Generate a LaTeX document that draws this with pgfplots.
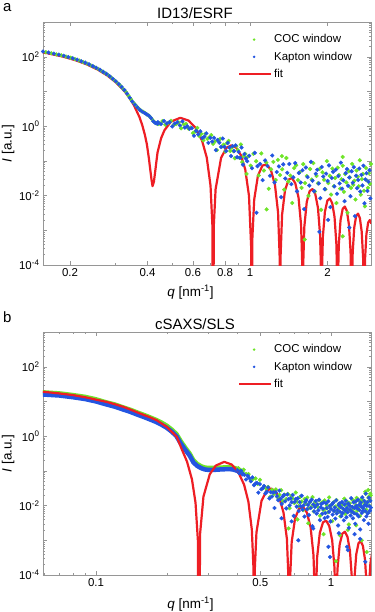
\documentclass[border=0pt]{standalone}
\usepackage{fontspec}
\setmainfont{Liberation Sans}
\usepackage{pgfplots}
\pgfplotsset{compat=1.18}

\definecolor{cocgreen}{RGB}{110,228,40}
\definecolor{kapblue}{RGB}{35,85,225}
\definecolor{fitred}{RGB}{238,30,36}
\definecolor{boxgray}{RGB}{150,150,150}

\pgfplotsset{
  zzdotleg/.style={legend image code/.code={%
      \path[draw=none, fill=none] (0bp,-2bp) rectangle (32bp,2bp);
      \fill[##1, draw=none] (15bp,0bp) circle (1.4bp);}},
  zzlineleg/.style={legend image code/.code={%
      \draw[##1] (0bp,0bp) -- (32bp,0bp);}},
}

\begin{document}
\begin{tikzpicture}
\path[use as bounding box] (-43bp,22bp) rectangle (332bp,-590bp);

% ---------- panel a: ID13/ESRF
\begin{axis}[at={(0,0)}, anchor=north west,
  scale only axis, width=328bp, height=243bp,
  xmode=log, ymode=log,
  xmin=0.157, xmax=2.95, ymin=1e-4, ymax=1e3,
  xtick={0.2,0.4,0.6,0.8,1,2}, xticklabels={0.2,0.4,0.6,0.8,1,2},
  minor xtick={0.3,0.5,0.7,0.9},
  ytick={1e-4,1e-3,1e-2,1e-1,1,1e1,1e2,1e3},
  yticklabels={10\textsuperscript{-4},,10\textsuperscript{-2},,10\textsuperscript{0},,10\textsuperscript{2},},
  minor ytick={2e-4,3e-4,4e-4,5e-4,6e-4,7e-4,8e-4,9e-4,2e-3,3e-3,4e-3,5e-3,6e-3,7e-3,8e-3,9e-3,2e-2,3e-2,4e-2,5e-2,6e-2,7e-2,8e-2,9e-2,0.2,0.3,0.4,0.5,0.6,0.7,0.8,0.9,2,3,4,5,6,7,8,9,20,30,40,50,60,70,80,90,200,300,400,500,600,700,800,900},
  axis line style={boxgray}, tick style={boxgray},
  major tick length=4bp, minor tick length=2bp,
  tick label style={font=\fontsize{11.5}{13}\selectfont, black},
  xlabel={\textit{q} [nm\textsuperscript{-1}]},
  ylabel={\textit{I} [a.u.]},
  every axis label/.append style={font=\fontsize{13.5}{16}\selectfont},
  xlabel style={at={(axis description cs:0.45,-0.113)}, anchor=center},
  ylabel style={at={(axis description cs:-0.106,0.5)}, anchor=center},
  legend cell align=left,
  legend style={at={(0.594,0.957)}, anchor=north west, inner sep=0pt,
    draw=none, fill=none, font=\fontsize{11.5}{13}\selectfont, row sep=3.5bp}]

\addplot[only marks, mark=*, mark size=1.9bp, color=cocgreen, zzdotleg] table {
q I
0.161 135
0.169 126
0.177 117
0.185 110
0.193 101
0.201 93.3
0.209 85.1
0.217 77.6
0.225 70.0
0.233 63.1
0.241 56.2
0.249 50.1
0.257 44.7
0.265 38.9
0.273 33.9
0.281 29.5
0.289 25.1
0.297 21.4
0.305 17.8
0.313 14.8
0.321 12.0
0.329 9.8
0.337 7.6
0.345 5.9
0.353 4.7
0.361 3.9
0.369 3.24
0.377 2.82
0.385 2.57
0.393 2.34
0.401 2.09
0.409 1.86
0.417 1.55
0.425 1.32
0.433 1.20
0.441 1.17
0.445 1.20
0.457 1.40
0.469 1.10
0.481 1.24
0.493 1.42
0.505 1.08
0.516 1.15
0.528 1.27
0.540 0.87
0.552 1.14
0.564 1.17
0.576 0.85
0.588 0.91
0.600 0.63
0.612 0.70
0.624 0.89
0.635 0.52
0.647 0.60
0.659 0.39
0.671 0.60
0.683 0.43
0.695 0.48
0.707 0.55
0.719 0.31
0.731 0.36
0.743 0.205
0.754 0.40
0.766 0.43
0.778 0.259
0.790 0.292
0.802 0.185
0.814 0.325
0.826 0.377
0.838 0.193
0.850 0.24
0.862 0.19
0.873 0.119
0.885 0.266
0.897 0.204
0.909 0.122
0.921 0.296
0.933 0.092
0.945 0.135
0.957 0.160
0.969 0.042
0.981 0.132
1.006 0.0726
1.031 0.160
1.056 0.0973
1.081 0.038
1.106 0.164
1.132 0.0526
1.157 0.0895
1.182 0.0157
1.207 0.0573
1.232 0.0935
1.258 0.0282
1.283 0.107
1.308 0.0391
1.333 0.0571
1.358 0.0148
1.384 0.121
1.409 0.0255
1.434 0.0376
1.459 0.0061
1.484 0.0619
1.510 0.0746
1.535 0.0279
1.560 0.0476
1.585 0.0167
1.610 0.0804
1.636 0.0229
1.661 0.0367
1.686 0.0098
1.711 0.0582
1.736 0.0288
1.762 0.0861
1.787 0.0132
1.812 0.0368
1.837 0.0225
1.862 0.0586
1.888 0.0039
1.913 0.0469
1.938 0.0287
1.963 0.0153
1.988 0.098
2.014 0.0229
2.039 0.0371
2.064 0.0107
2.089 0.0598
2.114 0.0185
2.140 0.032
2.165 0.0061
2.190 0.0635
2.215 0.0391
2.240 0.0159
2.266 0.0295
2.291 0.0723
2.316 0.0128
2.341 0.0414
2.366 0.0238
2.392 0.0032
2.417 0.0506
2.442 0.0333
2.467 0.0167
2.492 0.0815
2.518 0.0204
2.543 0.0267
2.568 0.0077
2.593 0.0528
2.618 0.0348
2.644 0.0186
2.669 0.104
2.694 0.0106
2.719 0.0297
2.744 0.0418
2.770 0.0138
2.795 0.0049
2.820 0.0624
2.845 0.0272
2.870 0.0167
2.896 0.0439
2.921 0.0219
2.946 0.0813
1.16 0.0040
1.63 0.00054
2.29 0.00067
2.29 0.130
1.33 0.137
};
\addlegendentry{COC window}

\addplot[only marks, mark=*, mark size=1.9bp, color=kapblue, zzdotleg] table {
q I
0.157 141
0.165 132
0.173 123
0.181 115
0.189 107
0.197 97.7
0.205 90.2
0.213 82.2
0.221 74.1
0.229 67.6
0.237 60.3
0.245 53.7
0.253 47.9
0.261 42.2
0.269 36.7
0.277 32.0
0.285 27.5
0.293 23.2
0.301 19.7
0.309 16.4
0.317 13.5
0.325 11.0
0.333 8.7
0.341 6.6
0.349 5.1
0.357 4.17
0.365 3.47
0.373 2.95
0.381 2.63
0.389 2.40
0.397 2.19
0.405 2.0
0.413 1.70
0.421 1.38
0.429 1.23
0.437 1.17
0.439 1.30
0.451 1.15
0.463 1.40
0.475 1.20
0.487 1.31
0.499 0.98
0.510 1.19
0.522 1.30
0.534 1.05
0.546 1.37
0.558 0.91
0.570 0.99
0.582 0.84
0.594 0.88
0.606 0.53
0.618 0.73
0.629 0.58
0.641 0.71
0.653 0.457
0.665 0.50
0.677 0.62
0.689 0.33
0.701 0.46
0.713 0.36
0.725 0.46
0.737 0.204
0.748 0.40
0.760 0.334
0.772 0.252
0.784 0.44
0.796 0.253
0.808 0.192
0.820 0.328
0.832 0.242
0.844 0.138
0.856 0.266
0.867 0.192
0.879 0.279
0.891 0.127
0.903 0.182
0.915 0.123
0.927 0.242
0.939 0.078
0.951 0.157
0.963 0.117
0.975 0.098
0.993 0.140
1.018 0.0614
1.043 0.170
1.069 0.0705
1.094 0.0813
1.119 0.0279
1.144 0.103
1.169 0.071
1.195 0.0373
1.220 0.143
1.245 0.024
1.270 0.0479
1.295 0.0692
1.321 0.0090
1.346 0.0794
1.371 0.0309
1.396 0.0452
1.421 0.0813
1.447 0.0214
1.472 0.0335
1.497 0.0865
1.522 0.0132
1.547 0.0447
1.573 0.0237
1.598 0.0535
1.623 0.0041
1.648 0.0643
1.673 0.0341
1.699 0.0194
1.724 0.094
1.749 0.0268
1.774 0.0133
1.799 0.0425
1.825 0.0555
1.850 0.0224
1.875 0.0084
1.900 0.0665
1.925 0.0355
1.951 0.0153
1.976 0.0429
2.001 0.0263
2.026 0.0740
2.051 0.00466
2.077 0.0321
2.102 0.0485
2.127 0.0184
2.152 0.0555
2.177 0.0113
2.203 0.0365
2.228 0.0224
2.253 0.0891
2.278 0.0158
2.303 0.0274
2.329 0.0069
2.354 0.0443
2.379 0.0582
2.404 0.0192
2.429 0.0333
2.455 0.0096
2.480 0.0502
2.505 0.0234
2.530 0.0658
2.555 0.00255
2.581 0.0375
2.606 0.0163
2.631 0.0282
2.656 0.060
2.681 0.0131
2.707 0.0393
2.732 0.0196
2.757 0.0724
2.782 0.006
2.807 0.0292
2.833 0.0441
2.858 0.0136
2.883 0.0252
2.908 0.0538
2.933 0.0083
1.06 0.0032
2.01 0.0020
2.43 0.0012
1.86 0.0009
};
\addlegendentry{Kapton window}

\addplot[no marks, color=fitred, line width=2.2bp, line join=round, zzlineleg] table {
q I
0.1555 133.9
0.1635 125.8
0.1860 102.4
0.2093 80.0
0.2326 59.9
0.2558 42.7
0.2791 28.7
0.3023 17.87
0.3256 10.07
0.3395 6.67
0.3535 4.11
0.3721 1.82
0.3814 1.076
0.3907 0.555
0.3977 0.295
0.4047 0.118
0.4140 0.030
0.4180 0.0187
0.4233 0.025
0.4372 0.173
0.4512 0.444
0.4651 0.761
0.4930 1.351
0.5358 1.738
0.5767 1.454
0.6140 0.905
0.6512 0.382
0.6791 0.1244
0.7023 0.0194
0.7140 0.00145
0.7186 1e-8
0.7233 0.00137
0.7349 0.0152
0.7721 0.1224
0.8093 0.2365
0.8465 0.2802
0.8837 0.2389
0.9209 0.1472
0.9581 0.0567
0.9907 0.00983
1.0097 0.00035
1.0143 1e-8
1.0202 5.2e-4
1.0379 7.66e-3
1.0731 0.0374
1.1173 0.0732
1.1614 0.0790
1.2055 0.0540
1.2497 0.0204
1.2849 3.26e-3
1.3026 1.97e-4
1.3085 1e-8
1.3144 1.89e-4
1.3319 2.82e-3
1.3672 0.01421
1.4112 0.02877
1.4552 0.03204
1.4992 0.02257
1.5432 8.75e-3
1.5785 1.431e-3
1.5961 8.7e-5
1.6020 1e-8
1.6078 8.5e-5
1.6254 1.273e-3
1.6606 6.53e-3
1.7046 0.01351
1.7485 0.01538
1.7925 0.01105
1.8364 4.36e-3
1.8715 7.24e-4
1.8892 4.4e-5
1.8950 1e-8
1.9009 4.3e-5
1.9184 6.56e-4
1.9536 3.41e-3
1.9975 7.17e-3
2.0414 8.27e-3
2.0853 6.03e-3
2.1292 2.415e-3
2.1644 4.05e-4
2.1819 2.5e-5
2.1879 1e-8
2.1937 2.4e-5
2.2112 3.71e-4
2.2463 1.95e-3
2.2902 4.15e-3
2.3342 4.84e-3
2.3782 3.57e-3
2.4221 1.442e-3
2.4571 2.44e-4
2.4747 1.5e-5
2.4806 1e-8
2.4865 1.5e-5
2.5040 2.26e-4
2.5390 1.195e-3
2.5829 2.56e-3
2.6268 3.02e-3
2.6707 2.24e-3
2.7145 9.14e-4
2.7496 1.55e-4
2.7672 9.7e-6
2.7731 1e-8
2.7789 9.5e-6
2.7964 1.45e-4
2.8316 7.72e-4
2.8756 1.668e-3
2.9196 1.978e-3
2.9600 1.55e-3
};
\addlegendentry{fit}
\end{axis}

% ---------- panel b: cSAXS/SLS
\begin{axis}[at={(0,-310bp)}, anchor=north west,
  scale only axis, width=328bp, height=243bp,
  xmode=log, ymode=log,
  xmin=0.0595, xmax=1.48, ymin=1e-4, ymax=1e3,
  xtick={0.1,0.5,1}, xticklabels={0.1,0.5,1},
  minor xtick={0.06,0.07,0.08,0.09,0.2,0.3,0.4,0.6,0.7,0.8,0.9},
  ytick={1e-4,1e-3,1e-2,1e-1,1,1e1,1e2,1e3},
  yticklabels={10\textsuperscript{-4},,10\textsuperscript{-2},,10\textsuperscript{0},,10\textsuperscript{2},},
  minor ytick={2e-4,3e-4,4e-4,5e-4,6e-4,7e-4,8e-4,9e-4,2e-3,3e-3,4e-3,5e-3,6e-3,7e-3,8e-3,9e-3,2e-2,3e-2,4e-2,5e-2,6e-2,7e-2,8e-2,9e-2,0.2,0.3,0.4,0.5,0.6,0.7,0.8,0.9,2,3,4,5,6,7,8,9,20,30,40,50,60,70,80,90,200,300,400,500,600,700,800,900},
  axis line style={boxgray}, tick style={boxgray},
  major tick length=4bp, minor tick length=2bp,
  tick label style={font=\fontsize{11.5}{13}\selectfont, black},
  xlabel={\textit{q} [nm\textsuperscript{-1}]},
  ylabel={\textit{I} [a.u.]},
  every axis label/.append style={font=\fontsize{13.5}{16}\selectfont},
  xlabel style={at={(axis description cs:0.45,-0.119)}, anchor=center},
  ylabel style={at={(axis description cs:-0.106,0.5)}, anchor=center},
  legend cell align=left,
  legend style={at={(0.594,0.957)}, anchor=north west, inner sep=0pt,
    draw=none, fill=none, font=\fontsize{11.5}{13}\selectfont, row sep=3.5bp}]

% dense part of the COC curve
\addplot[forget plot, no marks, color=cocgreen, line width=4.5bp, line join=round, line cap=round] table {
q I
0.058 18.4
0.060 18.2
0.070 17.0
0.080 15.2
0.090 13.5
0.100 11.5
0.110 9.5
0.120 8.2
0.130 6.8
0.140 5.75
0.150 4.8
0.160 4.08
0.170 3.47
0.180 2.95
0.190 2.46
0.200 2.0
0.210 1.55
0.220 1.15
0.230 0.70
0.240 0.46
0.250 0.32
0.260 0.20
0.270 0.157
0.280 0.136
0.290 0.125
0.300 0.121
0.320 0.121
0.340 0.124
0.360 0.127
0.380 0.126
0.400 0.114
0.420 0.095
};
\addplot[only marks, mark=*, mark size=1.9bp, color=cocgreen, zzdotleg] table {
q I
0.404 0.119
0.4145 0.0964
0.425 0.108
0.4355 0.0813
0.446 0.0809
0.4565 0.0536
0.467 0.0592
0.4775 0.0607
0.488 0.0419
0.4985 0.0551
0.509 0.0308
0.5195 0.0356
0.530 0.0307
0.5405 0.0344
0.551 0.0178
0.5615 0.0284
0.572 0.0215
0.5825 0.0292
0.593 0.0174
0.6035 0.0204
0.614 0.0278
0.6245 0.0135
0.635 0.0205
0.6455 0.0154
0.656 0.0217
0.6665 0.0084
0.677 0.0191
0.6875 0.0161
0.698 0.0118
0.7085 0.0238
0.719 0.0128
0.7295 0.0097
0.740 0.0178
0.7505 0.013
0.761 0.0074
0.7715 0.0155
0.782 0.0113
0.7925 0.0171
0.803 0.0083
0.8135 0.0123
0.824 0.0091
0.8345 0.0175
0.845 0.0068
0.8555 0.0127
0.866 0.0104
0.8765 0.0092
0.887 0.0143
0.8975 0.0051
0.908 0.0116
0.9185 0.0124
0.929 0.0074
0.9395 0.0141
0.950 0.0082
0.9605 0.0102
0.971 0.0064
0.9815 0.0172
0.992 0.0085
1.0025 0.0103
1.013 0.00356
1.0235 0.0124
1.034 0.0071
1.0445 0.0094
1.055 0.0145
1.0655 0.0063
1.076 0.0109
1.0865 0.0086
1.097 0.0049
1.1075 0.0118
1.118 0.0105
1.1285 0.0079
1.139 0.0158
1.1495 0.0058
1.160 0.0098
1.1705 0.0131
1.181 0.0074
1.1915 0.00285
1.202 0.0117
1.2125 0.0092
1.223 0.0066
1.2335 0.0147
1.244 0.0079
1.2545 0.0137
1.265 0.0061
1.2755 0.0103
1.286 0.0167
1.2965 0.0073
1.307 0.0092
1.3175 0.0138
1.328 0.0050
1.3385 0.0118
1.349 0.0157
1.3595 0.0088
1.370 0.0134
1.3805 0.0068
1.391 0.0109
1.4015 0.0219
1.412 0.0077
1.4225 0.0123
1.433 0.0062
1.4435 0.0166
1.454 0.0101
1.4645 0.0142
1.475 0.0198
0.660 0.0022
0.720 0.0040
0.800 0.0031
0.930 0.0015
1.050 0.00025
1.090 0.0014
1.180 0.0020
1.280 0.0027
1.350 0.0010
1.420 0.00046
1.470 0.022
1.450 0.018
1.400 0.025
1.440 0.028
};
\addlegendentry{COC window}

% dense part of the Kapton curve
\addplot[forget plot, no marks, color=kapblue, line width=4.5bp, line join=round, line cap=round] table {
q I
0.058 16.0
0.060 15.8
0.070 14.8
0.080 13.2
0.090 11.7
0.100 10.0
0.110 8.3
0.120 7.1
0.130 5.9
0.140 5.0
0.150 4.17
0.160 3.55
0.170 3.02
0.180 2.57
0.190 2.14
0.200 1.74
0.210 1.35
0.220 1.0
0.230 0.60
0.240 0.40
0.250 0.28
0.260 0.174
0.270 0.138
0.280 0.120
0.290 0.110
0.300 0.107
0.320 0.107
0.340 0.110
0.360 0.112
0.380 0.111
0.400 0.100
0.420 0.083
};
\addplot[only marks, mark=*, mark size=1.9bp, color=kapblue, zzdotleg] table {
q I
0.400 0.1047
0.407 0.0857
0.414 0.100
0.421 0.0794
0.428 0.0767
0.435 0.0566
0.442 0.0723
0.449 0.0622
0.456 0.050
0.463 0.0649
0.470 0.0387
0.477 0.0432
0.484 0.0448
0.491 0.0236
0.498 0.0415
0.505 0.0297
0.512 0.0317
0.519 0.0366
0.526 0.0223
0.533 0.0249
0.540 0.0333
0.547 0.0161
0.554 0.0242
0.561 0.0183
0.568 0.024
0.575 0.0085
0.582 0.0243
0.589 0.0185
0.596 0.0143
0.603 0.027
0.610 0.0156
0.617 0.0112
0.624 0.0183
0.631 0.0203
0.638 0.0132
0.645 0.0083
0.652 0.0209
0.659 0.0153
0.666 0.0101
0.673 0.0161
0.680 0.0125
0.687 0.0202
0.694 0.00505
0.701 0.0129
0.708 0.0155
0.715 0.00935
0.722 0.0161
0.729 0.0070
0.736 0.0125
0.743 0.0096
0.750 0.0192
0.757 0.0077
0.764 0.0101
0.771 0.00484
0.778 0.0127
0.785 0.0144
0.792 0.0079
0.799 0.0104
0.806 0.00533
0.813 0.0128
0.820 0.0085
0.827 0.0147
0.834 0.00255
0.841 0.0107
0.848 0.0068
0.855 0.0091
0.862 0.0136
0.869 0.0059
0.876 0.0107
0.883 0.0073
0.890 0.0148
0.897 0.0038
0.904 0.0089
0.911 0.0112
0.918 0.0058
0.925 0.0081
0.932 0.0123
0.939 0.00435
0.946 0.0061
0.953 0.0116
0.960 0.0085
0.967 0.00473
0.974 0.0133
0.981 0.0066
0.988 0.0097
0.995 0.0035
1.002 0.0079
1.009 0.0108
1.016 0.0055
1.023 0.0121
1.030 0.007
1.037 0.0088
1.044 0.0042
1.051 0.0141
1.058 0.0059
1.065 0.00746
1.072 0.00267
1.079 0.0102
1.086 0.0115
1.093 0.0066
1.100 0.0091
1.107 0.0050
1.114 0.0126
1.121 0.0061
1.128 0.0081
1.135 0.00375
1.142 0.0108
1.149 0.0072
1.156 0.0138
1.163 0.0046
1.170 0.0085
1.177 0.0064
1.184 0.0114
1.191 0.00228
1.198 0.0101
1.205 0.0076
1.212 0.0052
1.219 0.0163
1.226 0.0068
1.233 0.0091
1.240 0.0043
1.247 0.0124
1.254 0.006
1.261 0.0085
1.268 0.0030
1.275 0.0132
1.282 0.0098
1.289 0.0056
1.296 0.0083
1.303 0.0147
1.310 0.0049
1.317 0.0105
1.324 0.0074
1.331 0.00206
1.338 0.0123
1.345 0.0095
1.352 0.0061
1.359 0.0173
1.366 0.0070
1.373 0.0085
1.380 0.0038
1.387 0.0136
1.394 0.0104
1.401 0.0069
1.408 0.0221
1.415 0.0049
1.422 0.0098
1.429 0.0124
1.436 0.006
1.443 0.003
1.450 0.0168
1.457 0.0097
1.464 0.0071
1.471 0.0137
1.478 0.0087
0.616 0.0043
0.726 0.0010
0.840 0.0022
0.975 0.00065
0.990 0.00033
1.170 0.00065
1.180 0.00052
1.260 0.0015
1.400 0.00024
1.330 0.0011
0.680 0.0035
1.080 0.0016
};
\addlegendentry{Kapton window}

\addplot[no marks, color=fitred, line width=2.2bp, line join=round, zzlineleg] table {
q I
0.058 19.1
0.060 18.9
0.070 17.0
0.080 15.2
0.090 13.2
0.100 11.3
0.111 9.7
0.1207 8.26
0.1307 7.0
0.142 5.64
0.154 4.5
0.167 3.64
0.181 2.9
0.1905 2.3
0.200 1.85
0.2134 1.2
0.2206 0.955
0.2317 0.42
0.2439 0.1858
0.2561 0.05664
0.2652 0.01207
0.2713 0.00103
0.2740 1e-8
0.2774 0.00157
0.2866 0.01813
0.3049 0.07975
0.3232 0.1414
0.3512 0.1819
0.3780 0.1522
0.4024 0.09477
0.4268 0.04001
0.4451 0.01303
0.4604 0.00203
0.4680 0.000152
0.4710 1e-8
0.4741 0.000152
0.4817 0.00168
0.5061 0.01357
0.5305 0.02622
0.5549 0.03107
0.5793 0.02648
0.6037 0.01632
0.6280 0.00628
0.6494 0.00109
0.6618 0.000039
0.6649 1e-8
0.6687 6.0e-5
0.6803 8.80e-4
0.7034 4.30e-3
0.7324 8.41e-3
0.7613 9.07e-3
0.7902 6.21e-3
0.8191 2.34e-3
0.8423 3.75e-4
0.8538 2.26e-5
0.8577 1e-8
0.8615 2.18e-5
0.8730 3.24e-4
0.8962 1.633e-3
0.9250 3.31e-3
0.9539 3.68e-3
0.9828 2.59e-3
1.0116 1.005e-3
1.0347 1.64e-4
1.0462 1.0e-5
1.0501 1e-8
1.0539 9.7e-6
1.0654 1.46e-4
1.0885 7.50e-4
1.1173 1.553e-3
1.1461 1.767e-3
1.1749 1.27e-3
1.2037 5.01e-4
1.2268 8.3e-5
1.2383 5.1e-6
1.2421 1e-8
1.2460 5.0e-6
1.2575 7.5e-5
1.2806 3.92e-4
1.3093 8.24e-4
1.3381 9.51e-4
1.3669 6.93e-4
1.3957 2.78e-4
1.4187 4.7e-5
1.4302 2.9e-6
1.4341 1e-8
1.4379 2.8e-6
1.4495 4.3e-5
1.4724 2.24e-4
1.5012 4.76e-4
};
\addlegendentry{fit}
\end{axis}

% titles and panel letters
\node[anchor=base, inner sep=0pt, font=\fontsize{15}{18}\selectfont] at (152bp,4bp) {ID13/ESRF};
\node[anchor=base, inner sep=0pt, font=\fontsize{15}{18}\selectfont] at (152bp,-307bp) {cSAXS/SLS};
\node[anchor=base west, inner sep=0pt, font=\fontsize{15}{18}\selectfont] at (-40bp,11bp) {a};
\node[anchor=base west, inner sep=0pt, font=\fontsize{15}{18}\selectfont] at (-40bp,-300bp) {b};
\end{tikzpicture}
\end{document}
